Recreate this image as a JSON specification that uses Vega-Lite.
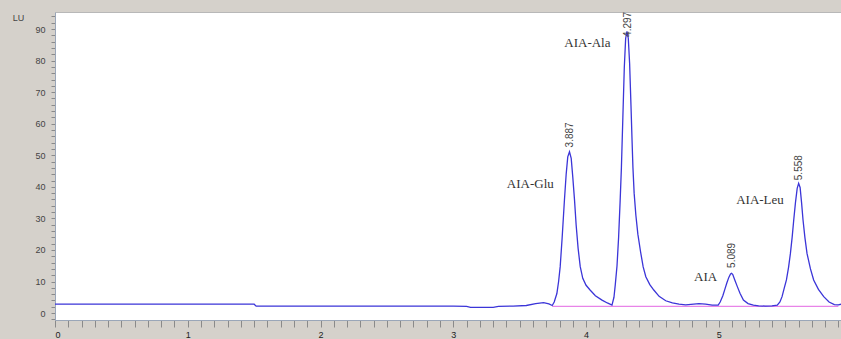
{
  "$schema": "https://vega.github.io/schema/vega-lite/v6.json",
  "width": 786,
  "height": 308,
  "autosize": {"type": "none"},
  "padding": {"left": 55, "top": 12, "right": 0, "bottom": 19},
  "background": "#d5d1cb",
  "config": {
    "view": {"fill": "white", "stroke": "#b8b8b8"},
    "axis": {"grid": false, "labelFont": "Liberation Sans", "labelFontSize": 9, "labelColor": "#444", "domainColor": "#9aa6b8", "tickColor": "#8a8a8a", "labelOverlap": false}
  },
  "datasets": {
    "trace": [
      {"t": 0, "v": 2.8}, {"t": 0.5, "v": 2.8}, {"t": 1.0, "v": 2.8}, {"t": 1.5, "v": 2.8}, {"t": 1.515, "v": 2.2},
      {"t": 2.0, "v": 2.2}, {"t": 2.5, "v": 2.2}, {"t": 3.0, "v": 2.2}, {"t": 3.1, "v": 2.1}, {"t": 3.13, "v": 1.8},
      {"t": 3.2, "v": 1.8}, {"t": 3.3, "v": 1.8}, {"t": 3.34, "v": 2.1}, {"t": 3.45, "v": 2.2}, {"t": 3.55, "v": 2.4},
      {"t": 3.62, "v": 3.0}, {"t": 3.68, "v": 3.3}, {"t": 3.72, "v": 2.9}, {"t": 3.745, "v": 2.4},
      {"t": 3.76, "v": 3.5}, {"t": 3.78, "v": 6.2}, {"t": 3.793, "v": 10}, {"t": 3.805, "v": 14.7}, {"t": 3.82, "v": 24},
      {"t": 3.837, "v": 35.8}, {"t": 3.85, "v": 44}, {"t": 3.862, "v": 49.5}, {"t": 3.875, "v": 51.1}, {"t": 3.888, "v": 49},
      {"t": 3.9, "v": 43}, {"t": 3.913, "v": 35.8}, {"t": 3.925, "v": 28}, {"t": 3.94, "v": 20.5}, {"t": 3.956, "v": 14.7},
      {"t": 3.975, "v": 11}, {"t": 4.0, "v": 8.8}, {"t": 4.03, "v": 7.3}, {"t": 4.07, "v": 5.5}, {"t": 4.12, "v": 4.1},
      {"t": 4.16, "v": 3.2}, {"t": 4.195, "v": 2.5},
      {"t": 4.21, "v": 5}, {"t": 4.22, "v": 9}, {"t": 4.233, "v": 15}, {"t": 4.245, "v": 24}, {"t": 4.256, "v": 35},
      {"t": 4.266, "v": 46}, {"t": 4.277, "v": 62}, {"t": 4.288, "v": 78}, {"t": 4.298, "v": 87}, {"t": 4.308, "v": 89.3},
      {"t": 4.318, "v": 87}, {"t": 4.328, "v": 79}, {"t": 4.338, "v": 66}, {"t": 4.346, "v": 55}, {"t": 4.353, "v": 46},
      {"t": 4.362, "v": 38}, {"t": 4.375, "v": 31}, {"t": 4.39, "v": 25}, {"t": 4.41, "v": 19.5}, {"t": 4.43, "v": 14.6},
      {"t": 4.45, "v": 11.5}, {"t": 4.48, "v": 9}, {"t": 4.51, "v": 7.3}, {"t": 4.55, "v": 5.3}, {"t": 4.6, "v": 3.9},
      {"t": 4.65, "v": 3.2}, {"t": 4.7, "v": 2.8}, {"t": 4.75, "v": 2.6}, {"t": 4.85, "v": 3.0}, {"t": 4.9, "v": 2.8},
      {"t": 4.95, "v": 2.5}, {"t": 4.995, "v": 2.5},
      {"t": 5.01, "v": 3.5}, {"t": 5.03, "v": 5.5}, {"t": 5.045, "v": 7.5}, {"t": 5.06, "v": 9.5}, {"t": 5.075, "v": 11.3},
      {"t": 5.088, "v": 12.4}, {"t": 5.096, "v": 12.6}, {"t": 5.105, "v": 12.2}, {"t": 5.12, "v": 10.5}, {"t": 5.14, "v": 8.3},
      {"t": 5.16, "v": 6.2}, {"t": 5.185, "v": 4.1}, {"t": 5.22, "v": 3.0}, {"t": 5.26, "v": 2.5}, {"t": 5.3, "v": 2.3},
      {"t": 5.35, "v": 2.2}, {"t": 5.4, "v": 2.3}, {"t": 5.44, "v": 2.5},
      {"t": 5.46, "v": 3.5}, {"t": 5.476, "v": 5.2}, {"t": 5.492, "v": 7.8}, {"t": 5.509, "v": 10.5}, {"t": 5.525, "v": 14.5},
      {"t": 5.539, "v": 18.9}, {"t": 5.552, "v": 24}, {"t": 5.564, "v": 29.5}, {"t": 5.577, "v": 35}, {"t": 5.59, "v": 39.5},
      {"t": 5.601, "v": 41.1}, {"t": 5.612, "v": 39.8}, {"t": 5.623, "v": 35}, {"t": 5.634, "v": 29.5}, {"t": 5.648, "v": 24},
      {"t": 5.664, "v": 18.9}, {"t": 5.69, "v": 14}, {"t": 5.714, "v": 10.5}, {"t": 5.75, "v": 7.5}, {"t": 5.79, "v": 5.2},
      {"t": 5.83, "v": 3.5}, {"t": 5.87, "v": 2.7}, {"t": 5.9, "v": 2.6}, {"t": 5.92, "v": 2.8}
    ],
    "baseline": [
      {"t": 3.745, "v": 2.1}, {"t": 5.9, "v": 2.1}
    ],
    "rt": [
      {"t": 3.88, "v": 52.5, "label": "3.887"},
      {"t": 4.315, "v": 87.5, "label": "4.297"},
      {"t": 5.1, "v": 14.3, "label": "5.089"},
      {"t": 5.6, "v": 42.1, "label": "5.558"}
    ],
    "names": [
      {"t": 3.58, "v": 40.9, "label": "AIA-Glu"},
      {"t": 4.01, "v": 85.5, "label": "AIA-Ala"},
      {"t": 4.9, "v": 11.4, "label": "AIA"},
      {"t": 5.31, "v": 35.8, "label": "AIA-Leu"}
    ]
  },
  "layer": [
    {
      "data": {"name": "baseline"},
      "mark": {"type": "line", "color": "#e884e8", "strokeWidth": 1.2},
      "encoding": {
        "x": {"field": "t", "type": "quantitative", "scale": {"domain": [0, 5.92], "nice": false, "zero": false},
          "axis": {"values": [0,0.1,0.2,0.3,0.4,0.5,0.6,0.7,0.8,0.9,1,1.1,1.2,1.3,1.4,1.5,1.6,1.7,1.8,1.9,2,2.1,2.2,2.3,2.4,2.5,2.6,2.7,2.8,2.9,3,3.1,3.2,3.3,3.4,3.5,3.6,3.7,3.8,3.9,4,4.1,4.2,4.3,4.4,4.5,4.6,4.7,4.8,4.9,5,5.1,5.2,5.3,5.4,5.5,5.6,5.7,5.8,5.9],
            "tickCount": 200,
            "labelExpr": "abs(datum.value - round(datum.value)) < 0.001 ? format(datum.value, 'd') : ''",
            "title": null, "tickSize": 7, "labelPadding": 3, "labelColor": "#222", "labelFontSize": 9}},
        "y": {"field": "v", "type": "quantitative", "scale": {"domain": [-2.2, 95.4], "nice": false, "zero": false},
          "axis": {"values": [-2,0,2,4,6,8,10,12,14,16,18,20,22,24,26,28,30,32,34,36,38,40,42,44,46,48,50,52,54,56,58,60,62,64,66,68,70,72,74,76,78,80,82,84,86,88,90,92,94],
            "tickCount": 200,
            "labelExpr": "datum.value % 10 === 0 ? format(datum.value, 'd') : ''",
            "title": "LU", "titleAngle": 0, "titleX": -37, "titleY": 5, "titleAlign": "center", "titleBaseline": "middle", "titleFont": "Liberation Sans", "titleFontSize": 9, "titleFontWeight": "normal", "titleColor": "#444", "tickSize": 4, "labelPadding": 6}}
      }
    },
    {
      "data": {"name": "trace"},
      "mark": {"type": "line", "color": "#3b35d8", "strokeWidth": 1.3},
      "encoding": {
        "x": {"field": "t", "type": "quantitative"},
        "y": {"field": "v", "type": "quantitative"}
      }
    },
    {
      "data": {"name": "rt"},
      "mark": {"type": "text", "angle": -90, "align": "left", "baseline": "middle", "font": "Liberation Sans", "fontSize": 10, "color": "#444"},
      "encoding": {
        "x": {"field": "t", "type": "quantitative"},
        "y": {"field": "v", "type": "quantitative"},
        "text": {"field": "label"}
      }
    },
    {
      "data": {"name": "names"},
      "mark": {"type": "text", "align": "center", "baseline": "middle", "font": "Liberation Serif", "fontSize": 13, "color": "#333"},
      "encoding": {
        "x": {"field": "t", "type": "quantitative"},
        "y": {"field": "v", "type": "quantitative"},
        "text": {"field": "label"}
      }
    }
  ]
}
